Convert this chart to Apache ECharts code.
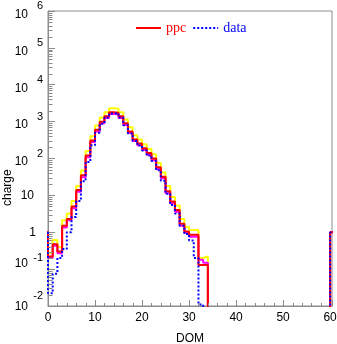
<!DOCTYPE html>
<html><head><meta charset="utf-8">
<script src="https://cdn.jsdelivr.net/npm/echarts@6/dist/echarts.min.js"></script>
<style>html,body{margin:0;padding:0;background:#fff}#c{width:337px;height:344px}</style>
</head><body><div id="c"></div>
<script>
// Histogram bins of width 1; first bin lower edge = -1, last bin = DOM 60
const binLow = -1;
// ppc (red)
const ppc = [1,
  0.22, 0.47, 0.30, 1.5, 2.3, 5.0, 14, 35, 120, 310,
  600, 1000, 1400, 1800, 1750, 1400, 900, 540, 330, 255,
  190, 140, 100, 58, 32, 13, 6.8, 4.0, 1.7, 1.05,
  0.85, 0.85, 0.13, 0.13,
  0,0,0,0,0,0,0,0,0,0, 0,0,0,0,0,0,0,0,0,0, 0,0,0,0,0,0,
  1];
// ppc upper band (yellow)
const ppcHigh = [1,
  0.28, 0.62, 0.40, 2.1, 3.2, 7.0, 18, 47, 160, 400,
  780, 1300, 1800, 2300, 2250, 1800, 1150, 700, 430, 330,
  245, 180, 130, 76, 42, 18, 9.0, 5.3, 2.3, 1.4,
  1.15, 1.15, 0.20, 0.22,
  0,0,0,0,0,0,0,0,0,0, 0,0,0,0,0,0,0,0,0,0, 0,0,0,0,0,0,
  1];
// ppc lower band (magenta)
const ppcLow = [1,
  0.20, 0.43, 0.27, 1.35, 2.1, 4.5, 12.5, 31, 108, 280,
  540, 900, 1260, 1620, 1580, 1260, 810, 490, 300, 230,
  170, 126, 90, 52, 29, 11.5, 6.1, 3.6, 1.5, 0.95,
  0.75, 0.75, 0.18, 0.15,
  0,0,0,0,0,0,0,0,0,0, 0,0,0,0,0,0,0,0,0,0, 0,0,0,0,0,0,
  1];
// data (blue dotted)
const dataVals = [1,
  0.022, 0.075, 0.20, 0.35, 1.0, 2.6, 7, 24, 80, 230,
  500, 870, 1300, 1650, 1700, 1300, 800, 480, 300, 225,
  165, 120, 85, 48, 25, 11, 5.5, 3.2, 1.5, 0.9,
  0.6, 0.2, 0.011, 0,
  0,0,0,0,0,0,0,0,0,0, 0,0,0,0,0,0,0,0,0,0, 0,0,0,0,0,0,
  1];
const xTickLabels = [0, 10, 20, 30, 40, 50, 60];
const yTickValues = [0.01, 0.1, 1, 10, 100, 1000, 10000, 100000, 1000000];

const FLOOR = 1e-4;
function stepData(vals) {
  const pts = [[binLow, FLOOR]];
  vals.forEach((v, i) => pts.push([binLow + i, v > 0 ? v : FLOOR]));
  const last = vals[vals.length - 1];
  pts.push([binLow + vals.length, last > 0 ? last : FLOOR]);
  pts.push([binLow + vals.length, FLOOR]);
  return pts;
}
// minor tick positions (axis decoration)
const minorTicks = [];
for (let k = -2; k < 6; k++) for (let m = 2; m <= 9; m++) minorTicks.push([0, m * Math.pow(10, k), 0]);
for (let v = 2; v < 60; v += 2) if (v % 10 !== 0) minorTicks.push([v, 0.01, 1]);

const GRAY = '#8c8c8c';
const FONT = 'Liberation Sans';
const chart = echarts.init(document.getElementById('c'), null, {renderer: 'canvas'});
function hist(name, vals, color, type, z) {
  return {name, type: 'line', data: stepData(vals), step: 'end', symbol: 'none', showSymbol: false,
    lineStyle: {color, width: 2, type}, itemStyle: {color}, z, animation: false, clip: true};
}
chart.setOption({
  animation: false,
  grid: {left: 48, top: 11, right: 5, bottom: 38, show: true, borderColor: GRAY, borderWidth: 1, outerBoundsMode: 'none'},
  legend: {
    data: [{name: 'ppc', textStyle: {color: '#ff0000'}}, {name: 'data', textStyle: {color: '#0000ff'}}],
    left: 130, top: 16, itemWidth: 25, itemHeight: 14, itemGap: 6,
    itemStyle: {opacity: 0},
    textStyle: {fontFamily: 'Liberation Serif', fontSize: 14}
  },
  xAxis: {
    type: 'value', min: 0, max: 60.4, interval: 10,
    axisLine: {show: true, lineStyle: {color: GRAY}},
    axisTick: {show: true, inside: true, length: 6, lineStyle: {color: GRAY}},
    splitLine: {show: false},
    axisLabel: {color: '#000', fontFamily: FONT, fontSize: 12, margin: 6,
      formatter: v => xTickLabels.includes(v) ? String(v) : ''},
    name: 'DOM', nameLocation: 'middle', nameGap: 27,
    nameTextStyle: {color: '#000', fontFamily: FONT, fontSize: 12}
  },
  yAxis: {
    type: 'log', logBase: 10, min: 0.01, max: 1e6,
    axisLine: {show: true, lineStyle: {color: GRAY}},
    axisTick: {show: true, inside: true, length: 7, lineStyle: {color: GRAY}, customValues: yTickValues},
    splitLine: {show: false},
    axisLabel: {
      customValues: [1, 10], margin: 4, color: '#000', fontFamily: FONT, fontSize: 12,
      formatter: v => (v === 1 ? '{p|1}' : '{q|10}'),
      rich: {
        p: {fontFamily: FONT, fontSize: 12, padding: [0, 8, 0, 0]},
        q: {fontFamily: FONT, fontSize: 12, padding: [0, 10, 0, 0]}
      }
    }
  },
  series: [
    hist('upper', ppcHigh, '#ffff00', 'solid', 1),
    hist('lower', ppcLow, '#ff00ff', 'solid', 2),
    hist('ppc', ppc, '#ff0000', 'solid', 3),
    hist('data', dataVals, '#0000ff', [2, 2], 4),
    {type: 'custom', name: 'minor', data: minorTicks, silent: true, z: 5, animation: false,
      encode: {x: 0, y: 1},
      renderItem: (params, api) => {
        const kind = api.value(2);
        const p = api.coord([api.value(0), api.value(1)]);
        const x = Math.round(p[0]) + 0.5, y = Math.round(p[1]) + 0.5;
        const shape = kind === 0 ? {x1: x, y1: y, x2: x + 4, y2: y} : {x1: x, y1: y - 0.5, x2: x, y2: y - 3.5};
        return {type: 'line', shape, style: {stroke: GRAY, lineWidth: 1}};
      }}
  ]
});
// power-of-ten labels with superscript exponents, placed at the axis' own tick positions
const expOffsets = {'-2': [1, -10], '-1': [-5, -11]};
const graphics = [{type: 'text', x: 2, y: 206, rotation: Math.PI / 2,
  style: {text: 'charge', fontFamily: FONT, fontSize: 12, fill: '#000'}}];
yTickValues.forEach(v => {
  const e = Math.round(Math.log10(v));
  if (e === 0 || e === 1) return;
  const py = chart.convertToPixel({yAxisIndex: 0}, v);
  const off = expOffsets[String(e)] || [3.5, -5];
  graphics.push({type: 'text', x: 28, y: py + off[0],
    style: {text: '10', fontFamily: FONT, fontSize: 12, fill: '#000', align: 'right', verticalAlign: 'middle'}});
  graphics.push({type: 'text', x: 43, y: py + off[1],
    style: {text: String(e), fontFamily: FONT, fontSize: 11, fill: '#000', align: 'right', verticalAlign: 'middle'}});
});
chart.setOption({graphic: graphics});
</script></body></html>
